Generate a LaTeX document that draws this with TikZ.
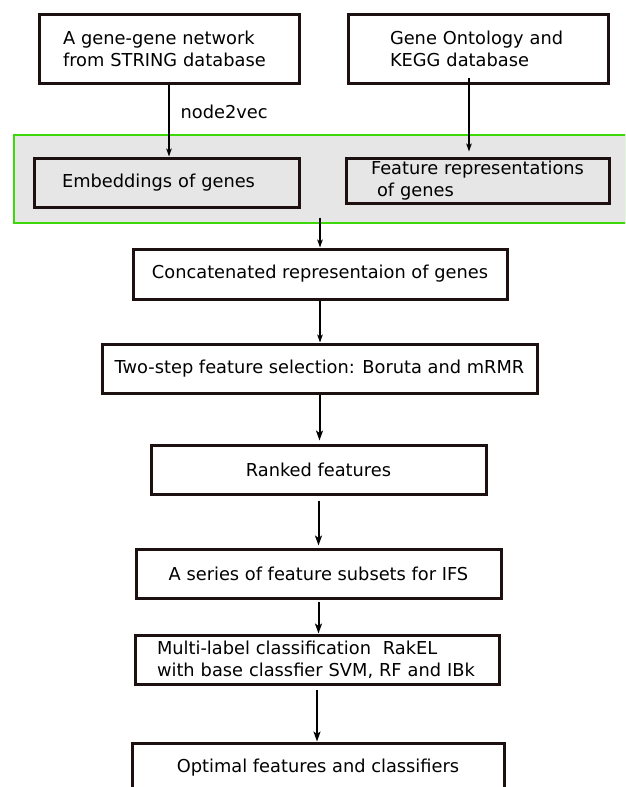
\documentclass[tikz,border=0pt]{standalone}
\usepackage{fontspec}
\setmainfont{DejaVu Sans}
\usetikzlibrary{arrows.meta,calc}
\definecolor{boxline}{HTML}{1C1010}
\definecolor{bandline}{HTML}{3CD80A}
\definecolor{bandfill}{HTML}{E6E6E6}
\newcommand{\flowfont}{\fontsize{17.8}{22}\selectfont}
\tikzset{
  boxy/.style    ={rectangle, draw=boxline, line width=3pt, align=center,
                   inner sep=0pt, font=\flowfont},
  lboxy/.style   ={boxy, align=left},
  group/.style   ={rectangle, draw=bandline, line width=1.1pt, fill=bandfill},
  flow/.style    ={-{Stealth[length=10pt,width=7pt,inset=2.5pt]}, line width=2pt},
  thinflow/.style={-{Stealth[length=8pt,width=5.5pt,inset=2pt]}, line width=1.3pt},
  lbl/.style     ={font=\flowfont, inner sep=0pt}
}

\begin{document}
\begin{tikzpicture}[x=1pt,y=-1pt]
\useasboundingbox (0,0) rectangle (625,787);
\clip (0,0) rectangle (625,787);
%% sources
\node[lboxy, inner xsep=24pt, text width=212pt, minimum height=69pt] (string) at (169,48.5)
      {\mbox{A gene-gene network}\\\mbox{from STRING database}};
\node[lboxy, inner xsep=42pt, text width=176pt, minimum height=69pt] (kegg) at (478,48.5)
      {\mbox{Gene Ontology and}\\\mbox{KEGG database}};
%% shaded band: the two gene representations
\node[group, minimum width=612pt, minimum height=88pt] (grp) at (320,179) {};
\node[lboxy, inner xsep=28pt, text width=209pt, minimum height=49pt] (embed) at (166.5,182.5)
      {\mbox{Embeddings of genes}};
\node[lboxy, inner xsep=25pt, text width=213pt, minimum height=45pt] (featrep) at (477.5,180.5)
      {\mbox{Feature representations}\\\mbox{\hspace*{6pt}of genes}};
%% pipeline
\node[boxy, minimum width=374pt, minimum height=50pt] (concat)  at (320,274)
      {Concatenated representaion of genes};
\node[boxy, minimum width=435pt, minimum height=49pt] (select)  at (319.5,368.5)
      {Two-step feature selection: Boruta and mRMR};
\node[boxy, minimum width=335pt, minimum height=49pt] (ranked)  at (318.5,469.5)
      {Ranked features};
\node[boxy, minimum width=365pt, minimum height=49pt] (ifs)     at (318.5,573.5)
      {A series of feature subsets for IFS};
\node[lboxy, inner xsep=22pt, text width=320pt, minimum height=49pt] (rakel) at (317,659.5)
      {\mbox{Multi-label classification\ \ RakEL}\\\mbox{with base classfier SVM, RF and IBk}};
\node[boxy, minimum width=372pt, minimum height=49pt] (optimal) at (318,767.5)
      {Optimal features and classifiers};

\draw[thinflow] (string.south) -- node[lbl, right, pos=0.38, xshift=11pt] (nv) {node2vec}
      (string.south |- embed.north);
\draw[thinflow] ([xshift=-9pt,yshift=7pt]kegg.south) -- ([xshift=-8.5pt,yshift=5pt]featrep.north);
\draw[thinflow] ([yshift=6pt]grp.south) -- (concat.north);
\draw[thinflow] (concat.south) -- (concat.south |- select.north);
\draw[flow, shorten >=3pt] (select.south) -- (select.south |- ranked.north);
\draw[flow, shorten <=5pt, shorten >=2pt] (ranked.south) -- (ranked.south |- ifs.north);
\draw[flow, shorten <=2pt] (ifs.south) -- (ifs.south |- rakel.north);
\draw[flow, shorten <=4pt] (rakel.south) -- (rakel.south |- optimal.north);
\end{tikzpicture}
\end{document}
